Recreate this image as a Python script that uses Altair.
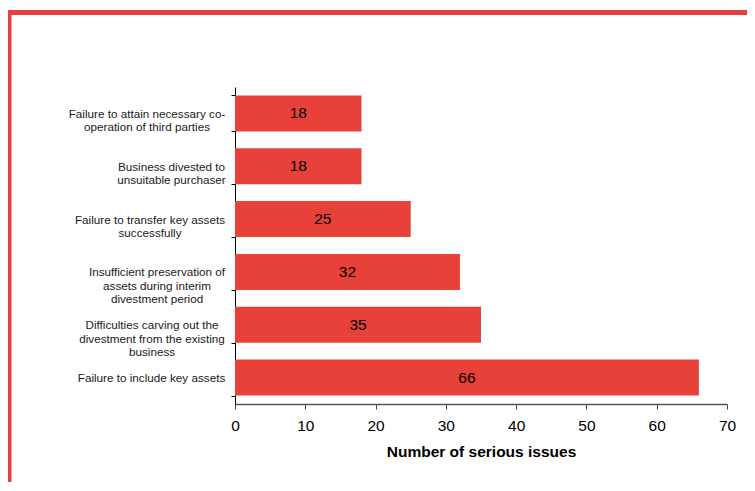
import altair as alt
import pandas as pd

categories = [
    "Failure to attain necessary co-|operation of third parties",
    "Business divested to|unsuitable purchaser",
    "Failure to transfer key assets|successfully",
    "Insufficient preservation of|assets during interim|divestment period",
    "Difficulties carving out the|divestment from the existing|business",
    "Failure to include key assets",
]
values = [18, 18, 25, 32, 35, 66]
x_ticks = [0, 10, 20, 30, 40, 50, 60, 70]

RED = "#E8413A"
FONT = "Liberation Sans"

df = pd.DataFrame({"issue": categories, "count": values})

# per-label padding so that the centred multi-line block ends near the axis
pads = [84.5, 60, 81.5, 74.5, 79.5, 80]
label_pad = {
    "condition": [{"test": f"datum.value == '{c}'", "value": p} for c, p in zip(categories, pads)],
    "value": 80,
}

y_enc = alt.Y(
    "issue:N",
    sort=categories,
    scale=alt.Scale(paddingInner=0.32, paddingOuter=0.16),
    axis=alt.Axis(
        title=None,
        labelExpr="split(datum.label, '|')",
        labelAlign="center",
        labelBaseline="middle",
        labelPadding=label_pad,
        labelFont=FONT,
        labelFontSize=11.7,
        labelColor="#1a1a1a",
        labelLineHeight=13.4,
        labelLimit=300,
        tickBand="extent",
        tickSize=4,
        tickColor="#000000",
        domainColor="#000000",
        grid=False,
    ),
)

bars = alt.Chart(df).mark_bar(color=RED).encode(
    x=alt.X(
        "count:Q",
        scale=alt.Scale(domain=[0, 70], nice=False),
        axis=alt.Axis(
            values=x_ticks,
            title="Number of serious issues",
            titleFont=FONT,
            titleFontSize=15.5,
            titleFontWeight="bold",
            titleColor="#000000",
            titlePadding=11,
            labelFont=FONT,
            labelFontSize=15.5,
            labelColor="#000000",
            labelPadding=9,
            labelFlush=False,
            tickSize=5,
            tickColor="#444444",
            domainColor="#555555",
            domainWidth=1.5,
            grid=False,
        ),
    ),
    y=y_enc,
)

labels = alt.Chart(df).transform_calculate(half="datum.count / 2").mark_text(
    font=FONT, fontSize=15.5, color="#000000", baseline="middle", align="center"
).encode(
    x=alt.X("half:Q"),
    y=alt.Y("issue:N", sort=categories),
    text=alt.Text("count:Q"),
)

frame_data = alt.Data(values=[{"k": 1}])
top_line = alt.Chart(frame_data).mark_rule(color=RED, strokeWidth=5, strokeCap="butt").encode(
    x=alt.value(-229), x2=alt.value(530), y=alt.value(-74.5)
)
left_line = alt.Chart(frame_data).mark_rule(color=RED, strokeWidth=5, strokeCap="butt").encode(
    x=alt.value(-226), y=alt.value(-77), y2=alt.value(400)
)

chart = alt.layer(bars, labels, top_line, left_line).properties(
    width=492,
    height=317,
    padding={"left": 227, "top": 79, "right": 20, "bottom": 78},
    autosize=alt.AutoSizeParams(type="none"),
    background="#ffffff",
).configure_view(stroke=None)

chart.save("out.html", embed_options={"renderer": "svg", "actions": False})
